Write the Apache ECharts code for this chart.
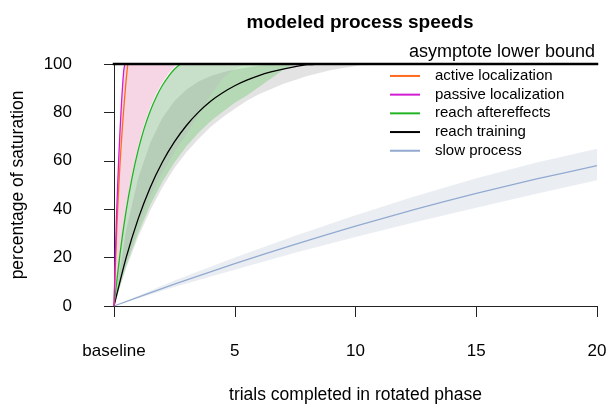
<!DOCTYPE html>
<html>
<head>
<meta charset="utf-8">
<script src="https://cdn.jsdelivr.net/npm/echarts@6/dist/echarts.min.js"></script>
<style>html,body{margin:0;padding:0;background:#fff;}#chart{width:614px;height:409px;}</style>
</head>
<body>
<div id="chart"></div>
<script>
// ---- data: [trials, percentage] ----
const xTickValues = [0, 5, 10, 15, 20];
const xTickLabels = ['baseline', '5', '10', '15', '20'];
const yTickValues = [0, 20, 40, 60, 80, 100];

const activeLine = [[0,0],[0.1,28],[0.2,50],[0.3,67],[0.4,81],[0.5,93],[0.57,100]];
const passiveLine = [[0,0],[0.1,36],[0.2,62],[0.3,82],[0.4,97],[0.45,100]];
const reachAfterLine = [[0,0],[0.25,21.7],[0.5,39.2],[0.75,53.1],[1,64.4],[1.25,73.4],[1.5,80.6],[1.75,86.4],[2,91.1],[2.25,94.8],[2.5,97.8],[2.75,100]];
const reachTrainLine = [[0,0],[0.5,19.9],[1,36],[1.5,49],[2,59.4],[2.5,67.8],[3,74.6],[3.5,80.1],[4,84.6],[4.5,88.1],[5,91],[5.5,93.3],[6,95.2],[6.5,96.7],[7,97.9],[7.5,98.9],[8,99.7],[8.5,100]];
const slowLine = [[0,0],[2.5,9],[5,17.5],[7.5,25.5],[10,33],[12.5,40],[15,46.5],[17.5,52.5],[20,58]];

// confidence bands: fast (upper) bound and slow (lower) bound
const activeBandFast = [[0,0],[0.1,38],[0.2,64],[0.3,84],[0.4,98],[0.44,100]];
const activeBandSlow = [[0,0],[0.25,22.6],[0.5,40.6],[0.75,54.8],[1,66.2],[1.25,75.2],[1.5,82.3],[1.75,88],[2,92.5],[2.25,96.1],[2.5,99],[2.6,100]];
const passiveBandFast = [[0,0],[0.1,36],[0.2,62],[0.3,82],[0.4,97],[0.45,100]];
const passiveBandSlow = [[0,0],[0.5,18],[1,33],[1.5,45],[2,55],[2.5,63.5],[3,71],[3.5,79],[4,87],[4.5,94],[5,98],[5.5,100]];
const reachAfterBandFast = [[0,0],[0.25,21.7],[0.5,39.2],[0.75,53.1],[1,64.4],[1.25,73.4],[1.5,80.6],[1.75,86.4],[2,91.1],[2.25,94.8],[2.5,97.8],[2.75,100]];
const reachAfterBandSlow = [[0,0],[0.5,16.5],[1,30.2],[1.5,41.7],[2,51.3],[2.5,59.3],[3,66],[3.5,71.6],[4,76.3],[4.5,80.3],[5,84],[5.5,87],[6,90.5],[6.5,94],[7,97.5],[7.5,100]];
const reachTrainBandFast = [[0,0],[0.5,31.3],[1,52.8],[1.5,67.5],[2,77.7],[2.5,84.7],[3,89.5],[3.5,92.8],[4,95],[4.5,96.6],[5,97.7],[5.5,98.6],[6,99.3],[6.5,100]];
const reachTrainBandSlow = [[0,0],[0.5,15.5],[1,28.5],[1.5,39.5],[2,49],[2.5,57],[3,63.5],[3.5,69],[4,74],[4.5,78],[5,81.5],[5.5,84.8],[6,87.5],[7,91.7],[8,95],[9,97.5],[10,99.2],[10.5,100]];
const slowBandFast = [[0,0],[2.5,10.5],[5,20],[7.5,29],[10,37.5],[12.5,45.5],[15,52.8],[17.5,59.3],[20,65]];
const slowBandSlow = [[0,0],[2.5,7.8],[5,15],[7.5,22],[10,28.5],[12.5,34.7],[15,40.6],[17.5,46.4],[20,52]];
const asymptote = [[0,100],[20,100]];

const FONT = 'Liberation Sans, Arial, sans-serif';

function band(fast, slow, color) {
  return {
    type: 'custom', silent: true, clip: true, z: 1,
    data: [[0, 0]],
    renderItem: function (params, api) {
      const pts = fast.map(p => api.coord(p))
        .concat(slow.slice().reverse().map(p => api.coord(p)));
      return { type: 'polygon', shape: { points: pts }, style: { fill: color } };
    }
  };
}
function line(name, data, color, width) {
  return {
    name: name, type: 'line', data: data, symbol: 'none', showSymbol: false,
    smooth: 0.25, clip: true, z: 3, color: color,
    lineStyle: { color: color, width: width || 1.3 }
  };
}

const chart = echarts.init(document.getElementById('chart'), null, { renderer: 'canvas' });
chart.setOption({
  animation: false,
  backgroundColor: '#ffffff',
  title: {
    text: 'modeled process speeds', left: 355, top: 8, textAlign: 'center',
    textStyle: { fontFamily: FONT, fontSize: 19, fontWeight: 'bold', color: '#000' }
  },
  graphic: [{
    type: 'text', right: 19, top: 43,
    style: { text: 'asymptote lower bound', font: '18px ' + FONT, fill: '#000' }
  }],
  legend: {
    data: ['active localization', 'passive localization', 'reach aftereffects', 'reach training', 'slow process'],
    orient: 'vertical', left: 390, top: 66.6, padding: 0, itemGap: 0,
    itemWidth: 30, itemHeight: 2, icon: 'rect',
    textStyle: { fontFamily: FONT, fontSize: 15, color: '#000', lineHeight: 18.7, padding: [0, 0, 0, 10] }
  },
  grid: { left: 114, right: 17, top: 64, bottom: 99 },
  xAxis: {
    type: 'value', min: 0, max: 20, interval: 5, offset: 13,
    name: 'trials completed in rotated phase', nameLocation: 'middle', nameGap: 67,
    nameTextStyle: { fontFamily: FONT, fontSize: 17.5, color: '#000' },
    axisLine: { show: true, lineStyle: { color: '#222', width: 1 } },
    axisTick: { show: true, length: 11, lineStyle: { color: '#222' } },
    axisLabel: {
      margin: 24, fontFamily: FONT, fontSize: 17, color: '#000',
      formatter: v => xTickLabels[xTickValues.indexOf(v)]
    },
    splitLine: { show: false }
  },
  yAxis: {
    type: 'value', min: 0, max: 100, interval: 20, offset: 20,
    name: 'percentage of saturation', nameLocation: 'middle', nameGap: 67,
    nameTextStyle: { fontFamily: FONT, fontSize: 17.5, color: '#000' },
    axisLine: { show: true, lineStyle: { color: '#222', width: 1 } },
    axisTick: { show: true, length: 10, lineStyle: { color: '#222' } },
    axisLabel: { margin: 22, fontFamily: FONT, fontSize: 17, color: '#000',
      formatter: v => (yTickValues.indexOf(v) >= 0 ? String(v) : '') },
    splitLine: { show: false }
  },
  series: [
    band(slowBandFast, slowBandSlow, 'rgba(140,160,190,0.18)'),
    band(reachTrainBandFast, reachTrainBandSlow, 'rgba(0,0,0,0.11)'),
    band(reachAfterBandFast, reachAfterBandSlow, 'rgba(60,190,60,0.28)'),
    band(passiveBandFast, passiveBandSlow, 'rgba(200,120,220,0.1)'),
    band(activeBandFast, activeBandSlow, 'rgba(230,60,100,0.15)'),
    line('slow process', slowLine, '#93aad0'),
    line('reach training', reachTrainLine, '#000000'),
    line('reach aftereffects', reachAfterLine, '#22b422'),
    line('active localization', activeLine, '#ff6a1f'),
    line('passive localization', passiveLine, '#d21cd2'),
    {
      name: 'asymptote', type: 'line', data: asymptote, symbol: 'none', clip: false, z: 5,
      lineStyle: { color: '#000', width: 2.5, cap: 'square' }
    }
  ]
});
</script>
</body>
</html>
